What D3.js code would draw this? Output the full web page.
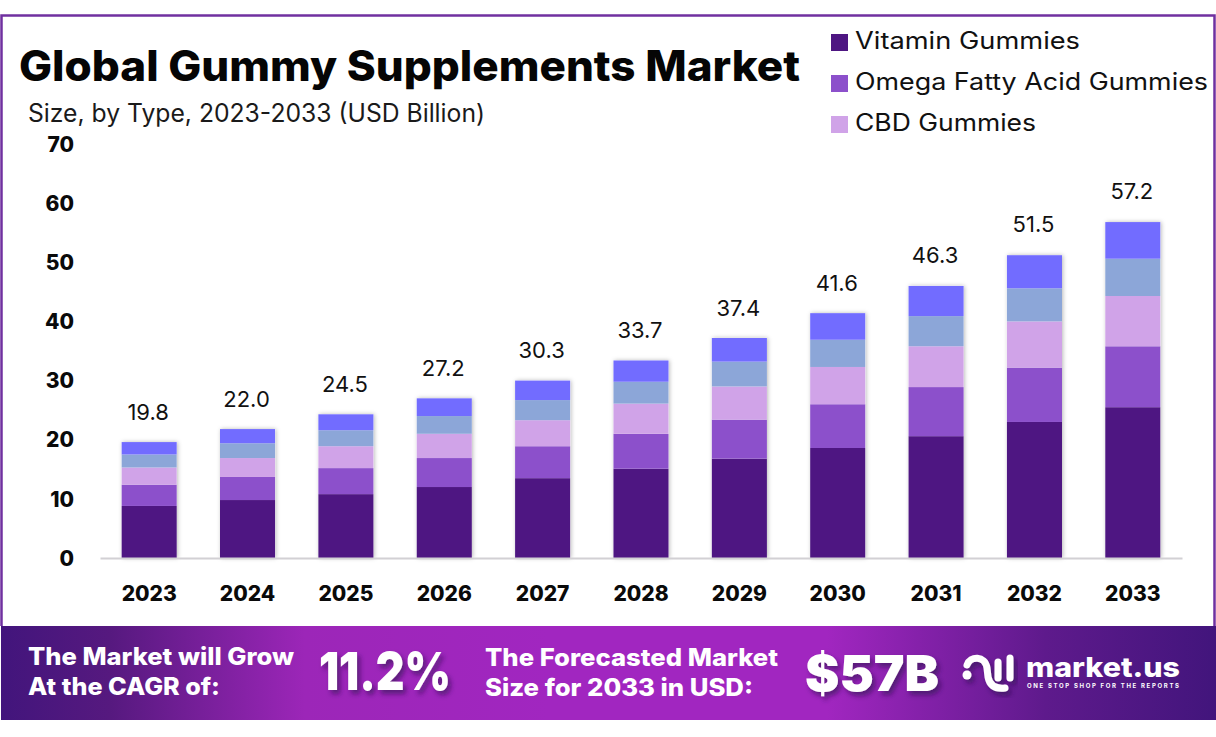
<!DOCTYPE html>
<html>
<head>
<meta charset="utf-8">
<script src="https://cdn.jsdelivr.net/npm/d3@7"></script>
<style>
html, body { margin: 0; padding: 0; background: #fff; }
svg { display: block; }
text { font-family: Inter, "Open Sans", sans-serif; }
</style>
</head>
<body>
<svg id="chart" width="1216" height="737"></svg>
<script>
var years = ["2023","2024","2025","2026","2027","2028","2029","2030","2031","2032","2033"];
var totals = ["19.8","22.0","24.5","27.2","30.3","33.7","37.4","41.6","46.3","51.5","57.2"];
var vitamin = [8.8, 9.8, 10.8, 12.0, 13.5, 15.1, 16.8, 18.6, 20.6, 23.0, 25.5];
var omega = [3.6, 3.9, 4.4, 4.9, 5.4, 5.9, 6.6, 7.4, 8.3, 9.2, 10.3];
var cbd = [2.9, 3.2, 3.7, 4.1, 4.4, 5.1, 5.6, 6.3, 6.9, 7.8, 8.5];
var fourth = [2.2, 2.5, 2.7, 3.0, 3.4, 3.7, 4.2, 4.6, 5.1, 5.6, 6.3];
var fifth = [2.1, 2.4, 2.7, 3.0, 3.3, 3.6, 4.0, 4.5, 5.1, 5.6, 6.2];
var seriesNames = ["Vitamin Gummies", "Omega Fatty Acid Gummies", "CBD Gummies"];
var seriesColors = ["#4e1682", "#8c50cb", "#d0a3e8", "#8ca6d8", "#726cff"];
var yTicks = [0, 10, 20, 30, 40, 50, 60, 70];

var svg = d3.select("#chart");
var defs = svg.append("defs");

var grad = defs.append("linearGradient").attr("id", "bannerGrad");
grad.append("stop").attr("offset", "0%").attr("stop-color", "#42157c");
grad.append("stop").attr("offset", "9%").attr("stop-color", "#56197f");
grad.append("stop").attr("offset", "25%").attr("stop-color", "#9c26b8");
grad.append("stop").attr("offset", "45%").attr("stop-color", "#a126c0");
grad.append("stop").attr("offset", "68%").attr("stop-color", "#a126c0");
grad.append("stop").attr("offset", "86%").attr("stop-color", "#5e1a8c");
grad.append("stop").attr("offset", "100%").attr("stop-color", "#42157c");

var barShadow = defs.append("filter").attr("id", "barShadow")
    .attr("x", "-10%").attr("y", "-5%").attr("width", "120%").attr("height", "110%");
barShadow.append("feDropShadow").attr("dx", 1).attr("dy", 0).attr("stdDeviation", 2)
    .attr("flood-color", "#000").attr("flood-opacity", 0.28);

var textShadow = defs.append("filter").attr("id", "textShadow")
    .attr("x", "-10%").attr("y", "-20%").attr("width", "125%").attr("height", "150%");
textShadow.append("feDropShadow").attr("dx", 3).attr("dy", 4).attr("stdDeviation", 2.5)
    .attr("flood-color", "#2a0a50").attr("flood-opacity", 0.6);

// frame
svg.append("path")
    .attr("d", "M1.5,626V15.5H1214.5V626")
    .attr("fill", "none").attr("stroke", "#7030a0").attr("stroke-width", 2.5);

// scales
var x = d3.scaleBand().domain(years).range([100, 1182]).paddingInner(0.44).paddingOuter(0.22);
var y = d3.scaleLinear().domain([0, 70]).range([558, 144]);

var rows = years.map(function(year, i){
    return {year: year, a: vitamin[i], b: omega[i], c: cbd[i], d: fourth[i], e: fifth[i]};
});
var stacked = d3.stack().keys(["a","b","c","d","e"])(rows);

// bars
var barGroup = svg.append("g");
barGroup.selectAll(".shadow").data(rows).enter().append("rect")
    .attr("class", "shadow")
    .attr("x", function(d){ return x(d.year); })
    .attr("width", x.bandwidth())
    .attr("y", function(d){ return y(d.a + d.b + d.c + d.d + d.e); })
    .attr("height", function(d){ return y(0) - y(d.a + d.b + d.c + d.d + d.e); })
    .attr("fill", "#fff")
    .attr("filter", "url(#barShadow)");

stacked.forEach(function(layer, i){
    barGroup.selectAll(".layer" + i).data(layer).enter().append("rect")
        .attr("class", "layer" + i)
        .attr("x", function(d){ return x(d.data.year); })
        .attr("width", x.bandwidth())
        .attr("y", function(d){ return y(d[1]); })
        .attr("height", function(d){ return y(d[0]) - y(d[1]); })
        .attr("fill", seriesColors[i]);
});

// axes
var yAxis = svg.append("g").attr("transform", "translate(80,0.5)")
    .call(d3.axisLeft(y).tickValues(yTicks).tickSize(0).tickPadding(6));
yAxis.select(".domain").remove();
yAxis.selectAll("text")
    .attr("font-size", 21).attr("font-weight", 800).attr("fill", "#0a0a0a")
    .style("font-family", "Inter");

var xAxis = svg.append("g").attr("transform", "translate(0,558)")
    .call(d3.axisBottom(x).tickSize(0).tickPadding(28));
xAxis.select(".domain").attr("stroke", "#d2d0d4").attr("stroke-width", 2);
xAxis.selectAll("text")
    .attr("font-size", 21).attr("font-weight", 800).attr("fill", "#0a0a0a")
    .style("font-family", "Inter");

// totals above bars
svg.selectAll(".total").data(rows).enter().append("text")
    .attr("class", "total")
    .attr("x", function(d){ return x(d.year) + x.bandwidth() / 2 - 1; })
    .attr("y", function(d, i){ return y(+totals[i]) - 21; })
    .attr("text-anchor", "middle")
    .attr("font-size", 22).attr("fill", "#111")
    .text(function(d, i){ return totals[i]; });

// text helper, the width is fitted to the reference because Poppins is not installed
function label(str, px, py, size, weight, color, width, adjust){
    var t = svg.append("text").attr("x", px).attr("y", py)
        .attr("font-size", size).attr("font-weight", weight).attr("fill", color).text(str);
    if(width){
        t.attr("textLength", width).attr("lengthAdjust", adjust || "spacingAndGlyphs");
    }
    return t;
}

label("Global Gummy Supplements Market", 19, 81, 42, 800, "#050505", 781);
label("Size, by Type, 2023-2033 (USD Billion)", 28, 122, 25, 400, "#1a1a1a", 457);

// legend
var legendY = d3.scalePoint().domain(seriesNames).range([42, 124]);
var legendWidths = [225, 353, 181];
seriesNames.forEach(function(name, i){
    svg.append("rect").attr("x", 831).attr("y", legendY(name) - 8)
        .attr("width", 17).attr("height", 17).attr("fill", seriesColors[i]);
    label(name, 855, legendY(name) + 7, 24, 400, "#111", legendWidths[i]);
});

// banner
svg.append("rect").attr("x", 1).attr("y", 626).attr("width", 1215).attr("height", 94)
    .attr("fill", "url(#bannerGrad)");

label("The Market will Grow", 28, 665, 24, 800, "#fff", 266);
label("At the CAGR of:", 28, 695, 24, 800, "#fff", 192);
label("11.2%", 319, 690, 52, 900, "#fff", 132).attr("filter", "url(#textShadow)");
label("The Forecasted Market", 485, 666, 24, 800, "#fff", 293);
label("Size for 2033 in USD:", 485, 696, 24, 800, "#fff", 268);
label("$57B", 805, 691, 50, 900, "#fff", 134).attr("filter", "url(#textShadow)");

// logo
var logo = svg.append("g").attr("filter", "url(#textShadow)");
logo.append("circle").attr("cx", 967).attr("cy", 675).attr("r", 4.5).attr("fill", "#fff");
logo.append("path")
    .attr("d", "M967,665C970,656 985,655 987,668L988,677C990,687 997,689 1005,688")
    .attr("fill", "none").attr("stroke", "#fff").attr("stroke-width", 7).attr("stroke-linecap", "round");
logo.append("path")
    .attr("d", "M998,662V678M1010,658V678")
    .attr("fill", "none").attr("stroke", "#fff").attr("stroke-width", 7).attr("stroke-linecap", "round");
label("market.us", 1026, 677, 27, 800, "#fff", 154);
label("ONE STOP SHOP FOR THE REPORTS", 1027, 688, 6, 700, "#fff", 152, "spacing");
</script>
</body>
</html>
